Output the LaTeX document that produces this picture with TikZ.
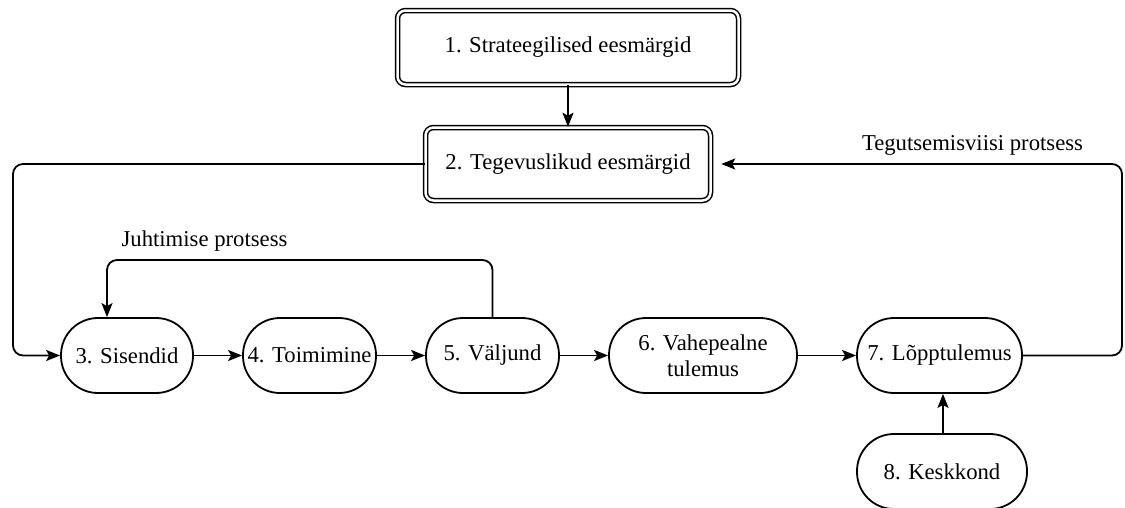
\documentclass[tikz,border=0pt]{standalone}
\usepackage{fontspec}
\setmainfont{Liberation Serif}
\usetikzlibrary{arrows.meta}
\begin{document}
\begin{tikzpicture}[x=1pt,y=-1pt]

    \tikzset{
      goal/.style={
        draw,
        double,
        double distance=2.5pt,
        line width=1.5pt,
        rounded corners=8pt,
        font=\fontsize{22.7}{26}\selectfont,
      },
      stage/.style={
        draw,
        line width=1.8pt,
        rounded corners=37pt,
        minimum height=75pt,
        inner sep=0pt,
        align=center,
        font=\fontsize{22.7}{26}\selectfont,
      },
      flow/.style={
        line width=1.8pt,
        rounded corners=10pt,
        -{Stealth[length=14pt,width=11pt,inset=3pt]},
      },
      looplabel/.style={font=\fontsize{22.7}{26}\selectfont},
    }
    \useasboundingbox (0,0) rectangle (1125,507);

	\node[goal,minimum width=341pt,minimum height=74pt] (n1) at (568,47.5) {1. Strateegilised eesmärgid};
	\node[goal,minimum width=285pt,minimum height=73pt] (n2) at (568,164) {2. Tegevuslikud eesmärgid};

	\node[stage,minimum width=132pt] (n3) at (127,355.5) {3. Sisendid};
	\node[stage,minimum width=133pt] (n4) at (309.5,355.5) {4. Toimimine};
	\node[stage,minimum width=133pt] (n5) at (492.5,355.5) {5. Väljund};
	\node[stage,minimum width=188pt] (n6) at (703,355.5) {6. Vahepealne\\tulemus};
	\node[stage,minimum width=165pt] (n7) at (939.5,355.5) {7. Lõpptulemus};
	\node[stage,minimum width=170pt] (n8) at (942,471.5) {8. Keskkond};

	\node[looplabel] (jp) at (204.5,241) {Juhtimise protsess};
	\node[looplabel] (tp) at (972.5,145) {Tegutsemisviisi protsess};

	\coordinate (lt) at (13,355.5);
	\coordinate (jt) at (107,260);
	\coordinate (rt) at (1122,164);

	\draw[flow] (n1) -- (n2);
	\draw[flow] (n3) -- (n4);
	\draw[flow] (n4) -- (n5);
	\draw[flow] (n5) -- (n6);
	\draw[flow] (n6) -- (n7);
	\draw[flow] (n8.north -| 943,0) -- (n7.south -| 943,0);
	\draw[flow] (n2.west) -| (lt) -- (n3.west);
	\draw[flow] (n5.north) |- (jt) -- (jt |- n3.north);
	\draw[flow,shorten >=10pt] (n7.east) -| (rt) -- (n2.east);

\end{tikzpicture}
\end{document}
